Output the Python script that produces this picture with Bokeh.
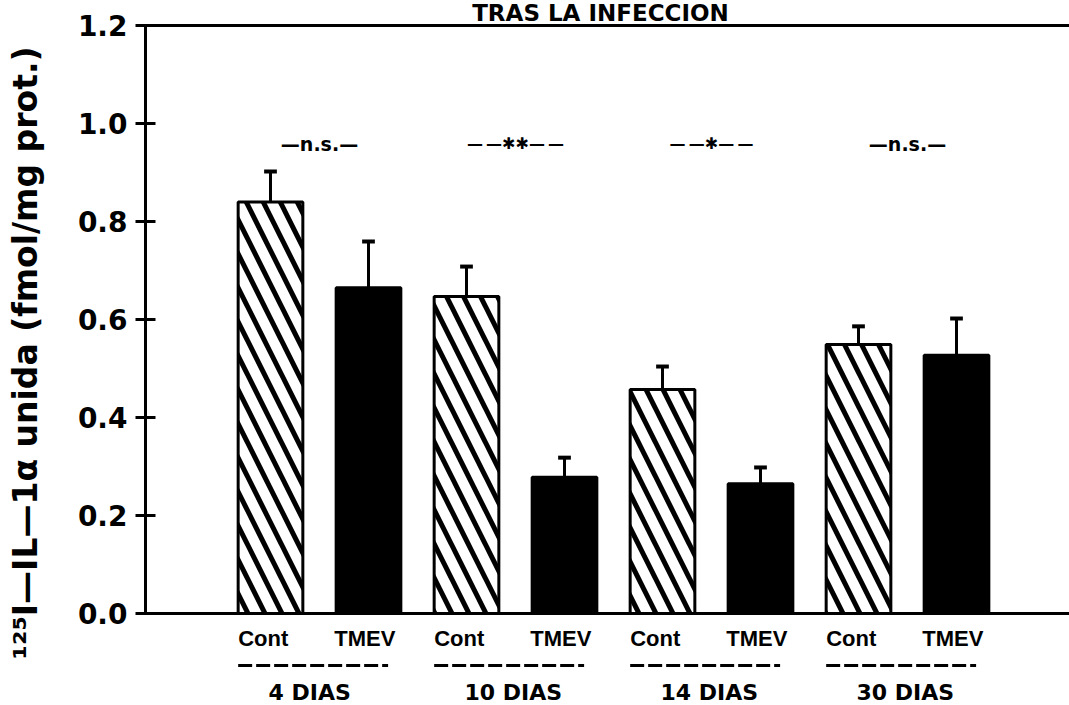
from bokeh.plotting import figure
from bokeh.models import Span, Range1d, FixedTicker, PrintfTickFormatter, ColumnDataSource
from bokeh.core.properties import value
from bokeh.embed import file_html
from bokeh.resources import INLINE

# ---------------- data ----------------
GROUPS = ["4 DIAS", "10 DIAS", "14 DIAS", "30 DIAS"]
CONDITIONS = ["Cont", "TMEV"]
CONT_MEAN = [0.840, 0.647, 0.457, 0.549]
CONT_SEM = [0.062, 0.061, 0.047, 0.037]
TMEV_MEAN = [0.665, 0.278, 0.265, 0.527]
TMEV_SEM = [0.094, 0.040, 0.033, 0.075]
SIGNIF = ["n.s.", "\u2731\u2731", "\u2731", "n.s."]
TITLE = "TRAS LA INFECCION"
Y_LABEL = "\u00b9\u00b2\u2075I\u2014IL\u20141\u03b1 unida (fmol/mg prot.)"
Y_TICKS = [0.0, 0.2, 0.4, 0.6, 0.8, 1.0, 1.2]

# ---------------- layout ----------------
BAR_W = 0.66
FONT = "DejaVu Sans"

n = len(GROUPS)
x_cont = [2 * g for g in range(n)]
x_tmev = [2 * g + 1 for g in range(n)]
x_mid = [2 * g + 0.5 for g in range(n)]

p = figure(width=1069, height=705, output_backend="svg", toolbar_location=None,
           x_range=Range1d(-1.2755, 8.153), y_range=Range1d(-0.1878, 1.251),
           min_border_left=145, min_border_right=0, min_border_top=0, min_border_bottom=0)
p.xaxis.visible = False
p.grid.visible = False
p.outline_line_color = None
p.background_fill_color = "white"
p.border_fill_color = "white"

ya = p.yaxis[0]
ya.ticker = FixedTicker(ticks=Y_TICKS)
ya.bounds = (0, 1.2)
ya.formatter = PrintfTickFormatter(format="%.1f")
ya.axis_line_width = 3
ya.major_tick_line_width = 3
ya.major_tick_in = 10
ya.major_tick_out = 10
ya.minor_tick_line_color = None
ya.major_label_text_font = FONT
ya.major_label_text_font_size = "28px"
ya.major_label_text_font_style = "bold"
ya.major_label_text_color = "black"
ya.major_label_standoff = 8
ya.axis_label = Y_LABEL
ya.axis_label_text_font = FONT
ya.axis_label_text_font_size = "33px"
ya.axis_label_text_font_style = "bold"
ya.axis_label_text_color = "black"
ya.axis_label_standoff = 30

# frame lines
p.add_layout(Span(location=1.2, dimension="width", line_color="black", line_width=3))
p.add_layout(Span(location=0, dimension="width", line_color="black", line_width=3))

# bars
cont_src = ColumnDataSource(dict(x=x_cont, top=CONT_MEAN,
                                 hi=[m + s for m, s in zip(CONT_MEAN, CONT_SEM)]))
tmev_src = ColumnDataSource(dict(x=x_tmev, top=TMEV_MEAN,
                                 hi=[m + s for m, s in zip(TMEV_MEAN, TMEV_SEM)]))

p.vbar(x="x", top="top", bottom=0, width=BAR_W, source=cont_src,
       fill_color="white", line_color="black", line_width=3,
       hatch_pattern="\\", hatch_scale=34, hatch_weight=5, hatch_color="black")
p.vbar(x="x", top="top", bottom=0, width=BAR_W, source=tmev_src,
       fill_color="black", line_color="black", line_width=3)

for src in (cont_src, tmev_src):
    p.segment(x0="x", y0="top", x1="x", y1="hi", source=src, line_color="black", line_width=3)
    xs = src.data["x"]
    his = src.data["hi"]
    p.segment(x0=[x - 0.065 for x in xs], y0=his, x1=[x + 0.065 for x in xs], y1=his,
              line_color="black", line_width=4)

# significance marks
ns_idx = [i for i, s in enumerate(SIGNIF) if s == "n.s."]
st_idx = [i for i, s in enumerate(SIGNIF) if s != "n.s."]
p.text(x=[x_mid[i] for i in ns_idx], y=[0.959] * len(ns_idx),
       text=["\u2014" + SIGNIF[i] + "\u2014" for i in ns_idx],
       text_align="center", text_baseline="middle",
       text_font=value(FONT), text_font_style="bold", text_font_size="19px", text_color="black")
p.text(x=[x_mid[i] for i in st_idx], y=[0.959] * len(st_idx),
       text=["\u2014\u2009\u2014" + SIGNIF[i] + "\u2014\u2009\u2014" for i in st_idx],
       text_align="center", text_baseline="middle",
       text_font=value(FONT), text_font_style="bold", text_font_size="16px", text_color="black")

# category labels
p.text(x=[x - BAR_W / 2 for x in x_cont], y=[-0.052] * n, text=[CONDITIONS[0]] * n,
       text_align="left", text_baseline="middle",
       text_font=value("Liberation Sans"), text_font_style="bold",
       text_font_size="22px", text_color="black")
p.text(x=[x - BAR_W / 2 - 0.02 for x in x_tmev], y=[-0.052] * n, text=[CONDITIONS[1]] * n,
       text_align="left", text_baseline="middle",
       text_font=value("Liberation Sans"), text_font_style="bold",
       text_font_size="22px", text_color="black")
p.segment(x0=[x - BAR_W / 2 for x in x_cont], y0=[-0.1061] * n,
          x1=[x + 0.2 for x in x_tmev], y1=[-0.1061] * n,
          line_color="black", line_width=3, line_dash="14 4")
p.text(x=[x - 0.02 for x in x_cont], y=[-0.161] * n, text=GROUPS,
       text_align="left", text_baseline="middle",
       text_font=value(FONT), text_font_style="bold", text_font_size="22px", text_color="black")

# title at the top edge
p.text(x=[3.367], y=[1.2245], text=[TITLE], text_align="center", text_baseline="middle",
       text_font=value(FONT), text_font_style="bold", text_font_size="23px", text_color="black")

open("out.html", "w").write(file_html(p, INLINE))
